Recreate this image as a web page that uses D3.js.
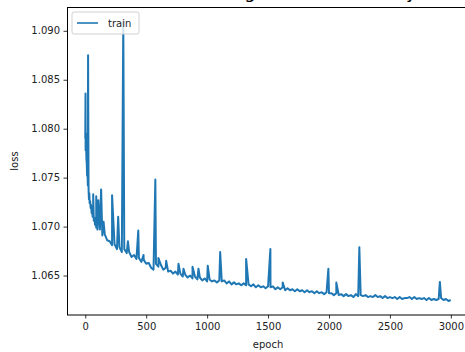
<!DOCTYPE html>
<html>
<head>
<meta charset="utf-8">
<script src="https://cdn.jsdelivr.net/npm/d3@7"></script>
<style>
  body { margin: 0; background: #fff; }
  svg { display: block; font-family: "DejaVu Sans", sans-serif; }
</style>
</head>
<body>
<div id="chart"></div>
<script>
// training loss
const baseEpochs = [
  0, 3, 6, 9, 12, 15, 18, 21, 27, 30, 33, 36, 40, 44, 48, 52, 56, 60, 65, 70, 75, 80, 85, 90, 95, 100,
  120, 140, 160, 180, 200, 220, 240, 260, 280, 300, 320, 340, 360, 380, 400, 420, 440, 460, 480, 500,
  520, 540, 560, 580, 600, 620, 640, 660, 680, 700, 720, 740, 760, 780, 800, 820, 840, 860, 880, 900,
  920, 940, 960, 980, 1000, 1020, 1040, 1060, 1080, 1100, 1120, 1140, 1160, 1180, 1200, 1220, 1240,
  1260, 1280, 1300, 1320, 1340, 1360, 1380, 1400, 1420, 1440, 1460, 1480, 1500, 1520, 1540, 1560,
  1580, 1600, 1620, 1640, 1660, 1680, 1700, 1720, 1740, 1760, 1780, 1800, 1820, 1840, 1860, 1880,
  1900, 1920, 1940, 1960, 1980, 2000, 2020, 2040, 2060, 2080, 2100, 2120, 2140, 2160, 2180, 2200,
  2220, 2240, 2260, 2280, 2300, 2320, 2340, 2360, 2380, 2400, 2420, 2440, 2460, 2480, 2500, 2520,
  2540, 2560, 2580, 2600, 2620, 2640, 2660, 2680, 2700, 2720, 2740, 2760, 2780, 2800, 2820, 2840,
  2860, 2880, 2900, 2920, 2940, 2960, 2980, 2999
];
const baseLoss = [
  1.0790, 1.0778, 1.0795, 1.0770, 1.0765, 1.0752, 1.0758, 1.0742, 1.0738, 1.0728, 1.0734, 1.0724,
  1.0726, 1.0719, 1.0722, 1.0714, 1.0718, 1.0710, 1.0713, 1.0706, 1.0709, 1.0702, 1.0706, 1.0699,
  1.0703, 1.0697,
  1.0697, 1.0691, 1.0692, 1.0686, 1.0685, 1.0681, 1.0682, 1.0677, 1.0679, 1.0674, 1.0677, 1.0673,
  1.0674, 1.0669, 1.0671, 1.0667, 1.0668, 1.0664, 1.0666, 1.0662, 1.0663, 1.0658, 1.0656, 1.0662,
  1.0659, 1.0661, 1.0656, 1.0658, 1.0654, 1.0655, 1.0652, 1.0654, 1.0651, 1.0652, 1.0649, 1.0651,
  1.0648, 1.0650, 1.0647, 1.0649, 1.0646, 1.0648, 1.0645, 1.0647, 1.0644, 1.0646, 1.0644, 1.0645,
  1.0643, 1.0645, 1.0644, 1.0645, 1.0642, 1.0644, 1.0641, 1.0643, 1.0641, 1.0642, 1.0640, 1.0642,
  1.0640, 1.0641, 1.0639, 1.0641, 1.0638, 1.0640, 1.0638, 1.0639, 1.0637, 1.0639, 1.0638, 1.0639,
  1.0636, 1.0638, 1.0636, 1.0638, 1.0635, 1.0637, 1.0635, 1.0636, 1.0634, 1.0636, 1.0634, 1.0635,
  1.0633, 1.0635, 1.0633, 1.0634, 1.0632, 1.0634, 1.0632, 1.0633, 1.0631, 1.0633, 1.0632, 1.0632,
  1.0630, 1.0632, 1.0630, 1.0631, 1.0629, 1.0631, 1.0629, 1.0630, 1.0628, 1.0631, 1.0629, 1.0630,
  1.0629, 1.0630, 1.0628, 1.0629, 1.0628, 1.0630, 1.0628, 1.0629, 1.0627, 1.0629, 1.0627, 1.0628,
  1.0627, 1.0628, 1.0626, 1.0628, 1.0626, 1.0627, 1.0627, 1.0628, 1.0626, 1.0628, 1.0626, 1.0627,
  1.0626, 1.0627, 1.0625, 1.0627, 1.0625, 1.0626, 1.0625, 1.0626, 1.0627, 1.0625, 1.0626, 1.0624,
  1.0625
];
// short spikes
const spikeEpochs = [2, 23, 65, 90, 107, 130, 150, 220, 270, 312, 350, 435, 478, 575, 600, 664, 765,
  806, 880, 929, 1005, 1107, 1320, 1519, 1620, 1995, 2060, 2249, 2910];
const spikeLoss = [1.0836, 1.0875, 1.0733, 1.0731, 1.0727, 1.0738, 1.0705, 1.0732, 1.0710, 1.0910,
  1.0685, 1.0696, 1.0671, 1.0748, 1.0668, 1.0665, 1.0662, 1.0657, 1.0659, 1.0657, 1.0660, 1.0674,
  1.0667, 1.0677, 1.0643, 1.0657, 1.0643, 1.0679, 1.06435];
const xTicks = [0, 500, 1000, 1500, 2000, 2500, 3000];
const yTicks = [1.065, 1.070, 1.075, 1.080, 1.085, 1.090];

const width = 465, height = 352;
const margin = { top: 7, right: -4, bottom: 37, left: 67 };
const w = width - margin.left - margin.right;
const h = height - margin.top - margin.bottom;

const data = baseEpochs.map((e, i) => ({ epoch: e, loss: baseLoss[i] }))
  .concat(spikeEpochs.map((e, i) => ({ epoch: e, loss: spikeLoss[i] })))
  .sort((a, b) => a.epoch - b.epoch);

// matplotlib-style 5% padding
const xExt = d3.extent(data, d => d.epoch);
const yExt = d3.extent(data, d => d.loss);
const xPad = (xExt[1] - xExt[0]) * 0.05;
const yPad = (yExt[1] - yExt[0]) * 0.05;

const x = d3.scaleLinear().domain([xExt[0] - xPad, xExt[1] + xPad]).range([0, w]);
const y = d3.scaleLinear().domain([yExt[0] - yPad, yExt[1] + yPad]).range([h, 0]);

const svg = d3.select('#chart').append('svg')
  .attr('width', width)
  .attr('height', height);

// title, cut off at the top of the image in the original too
svg.append('text')
  .attr('x', margin.left + w / 2)
  .attr('y', -2.5)
  .attr('text-anchor', 'middle')
  .style('font-size', '18px')
  .attr('fill', '#000')
  .text('Model (training) loss over history');

const g = svg.append('g').attr('transform', `translate(${margin.left},${margin.top})`);

const line = d3.line().x(d => x(d.epoch)).y(d => y(d.loss));

g.append('path')
  .datum(data)
  .attr('fill', 'none')
  .attr('stroke', '#1f77b4')
  .attr('stroke-width', 2)
  .attr('stroke-linejoin', 'round')
  .attr('d', line);

const xAxis = g.append('g')
  .attr('transform', `translate(0,${h})`)
  .call(d3.axisBottom(x).tickValues(xTicks).tickSize(3.5).tickPadding(4.5).tickFormat(d3.format('d')));
const yAxis = g.append('g')
  .call(d3.axisLeft(y).tickValues(yTicks).tickSize(3.5).tickPadding(3.5).tickFormat(d3.format('.3f')));

[xAxis, yAxis].forEach(a => {
  a.select('.domain').remove();
  a.selectAll('line').attr('stroke', '#000').attr('stroke-width', 0.8);
  a.selectAll('text').style('font-size', '10px').style('font-family', '"DejaVu Sans", sans-serif').attr('fill', '#222');
});

// frame
g.append('rect')
  .attr('x', 0.5).attr('y', 0.5)
  .attr('width', w).attr('height', h - 0.5)
  .attr('fill', 'none')
  .attr('stroke', '#000')
  .attr('stroke-width', 1);

svg.append('text')
  .attr('x', margin.left + w / 2)
  .attr('y', height - 4)
  .attr('text-anchor', 'middle')
  .style('font-size', '10px')
  .attr('fill', '#222')
  .text('epoch');

svg.append('text')
  .attr('transform', `translate(18,${margin.top + h / 2}) rotate(-90)`)
  .attr('text-anchor', 'middle')
  .style('font-size', '10px')
  .attr('fill', '#222')
  .text('loss');

// legend
const leg = g.append('g').attr('transform', 'translate(5,5)');
leg.append('rect')
  .attr('width', 67).attr('height', 22)
  .attr('rx', 2)
  .attr('fill', '#fff').attr('fill-opacity', 0.8)
  .attr('stroke', '#d0d0d0');
leg.append('line')
  .attr('x1', 5).attr('x2', 26).attr('y1', 11).attr('y2', 11)
  .attr('stroke', '#1f77b4').attr('stroke-width', 1.6);
leg.append('text')
  .attr('x', 36).attr('y', 15)
  .style('font-size', '10px')
  .attr('fill', '#222')
  .text('train');
</script>
</body>
</html>
